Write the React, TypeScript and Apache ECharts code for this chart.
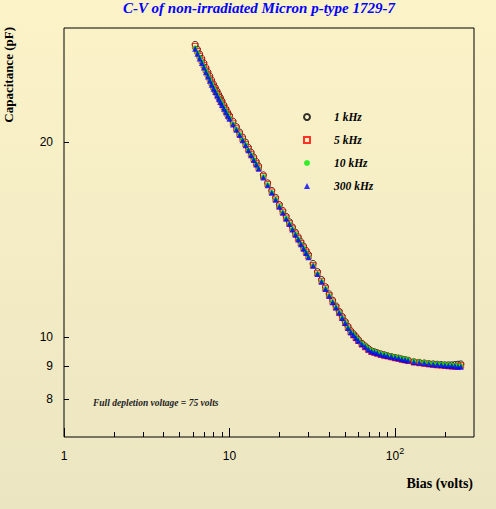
import React, { useEffect, useRef } from "react";
import * as echarts from "echarts";

// Bias voltage (V) shared by all four frequency scans
const biasVolts = [
  6.2, 6.4, 6.6, 6.8, 7.0, 7.2, 7.4, 7.6, 7.8, 8.0, 8.2, 8.4, 8.6, 8.8, 9.0,
  9.25, 9.5, 9.75,
  10, 10.5, 11, 11.5, 12, 12.5, 13, 13.5, 14, 14.5, 15,
  16, 17, 18, 19, 20, 21, 22, 23, 24, 25, 26, 27, 28, 29, 30,
  32, 34, 36, 38, 40, 42, 44, 46, 48, 50, 52, 54, 56, 58, 60,
  63, 66, 69, 72, 75, 78,
  82, 86, 90,
  95, 100, 105, 110, 115, 120,
  130, 140, 150, 160, 170, 180, 190, 200, 210, 220, 230, 240, 250,
];

// Capacitance (pF)
const cap1kHz = [
  28.3, 27.82, 27.36, 26.93, 26.5, 26.07, 25.67, 25.3, 24.93, 24.58, 24.28, 23.99, 23.7, 23.43, 23.16,
  22.82, 22.52, 22.23,
  21.98, 21.54, 21.12, 20.72, 20.35, 19.99, 19.62, 19.29, 18.96, 18.66, 18.36,
  17.79, 17.29, 16.83, 16.42, 16.01, 15.67, 15.35, 15.06, 14.78, 14.51, 14.27, 14.03, 13.81, 13.6, 13.4,
  12.98, 12.61, 12.26, 11.95, 11.65, 11.39, 11.16, 10.95, 10.75, 10.56, 10.38, 10.22, 10.11, 10.01, 9.9,
  9.77, 9.68, 9.59, 9.51, 9.48, 9.45,
  9.41, 9.38, 9.35,
  9.32, 9.29, 9.27, 9.24, 9.22, 9.2,
  9.15, 9.13, 9.11, 9.09, 9.08, 9.07, 9.06, 9.05, 9.05, 9.05, 9.06, 9.07, 9.08,
];

const cap5kHz = [
  28.12, 27.62, 27.15, 26.71, 26.28, 25.85, 25.45, 25.07, 24.7, 24.35, 24.06, 23.78, 23.5, 23.23, 22.98,
  22.66, 22.37, 22.08,
  21.84, 21.4, 20.98, 20.59, 20.22, 19.85, 19.49, 19.16, 18.84, 18.53, 18.25,
  17.7, 17.21, 16.75, 16.33, 15.93, 15.59, 15.27, 14.98, 14.7, 14.43, 14.19, 13.95, 13.73, 13.52, 13.32,
  12.9, 12.53, 12.19, 11.88, 11.59, 11.33, 11.11, 10.9, 10.7, 10.51, 10.33, 10.17, 10.06, 9.96, 9.86,
  9.74, 9.64, 9.55, 9.48, 9.45, 9.42,
  9.38, 9.35, 9.33,
  9.3, 9.27, 9.25, 9.22, 9.2, 9.18,
  9.13, 9.11, 9.09, 9.07, 9.05, 9.04, 9.03, 9.02, 9.01, 9.0, 8.99, 9.0, 9.03,
];

const cap10kHz = [
  27.95, 27.46, 27.0, 26.57, 26.15, 25.72, 25.32, 24.95, 24.59, 24.24, 23.96, 23.68, 23.4, 23.14, 22.89,
  22.58, 22.29, 22.01,
  21.78, 21.34, 20.93, 20.54, 20.17, 19.81, 19.45, 19.12, 18.8, 18.5, 18.22,
  17.67, 17.18, 16.72, 16.31, 15.91, 15.57, 15.25, 14.96, 14.68, 14.41, 14.17, 13.93, 13.71, 13.5, 13.3,
  12.89, 12.52, 12.18, 11.87, 11.58, 11.33, 11.11, 10.9, 10.7, 10.51, 10.33, 10.17, 10.08, 9.98, 9.89,
  9.77, 9.68, 9.59, 9.52, 9.49, 9.46,
  9.42, 9.39, 9.37,
  9.34, 9.31, 9.29, 9.26, 9.24, 9.22,
  9.17, 9.15, 9.13, 9.11, 9.09, 9.08, 9.07, 9.06, 9.05, 9.04, 9.03, 9.02, 9.02,
];

const cap300kHz = [
  27.87, 27.38, 26.92, 26.49, 26.07, 25.64, 25.24, 24.87, 24.51, 24.16, 23.88, 23.6, 23.32, 23.06, 22.81,
  22.51, 22.22, 21.95,
  21.73, 21.29, 20.88, 20.5, 20.13, 19.77, 19.41, 19.08, 18.76, 18.46, 18.18,
  17.63, 17.14, 16.69, 16.28, 15.88, 15.54, 15.22, 14.93, 14.65, 14.38, 14.14, 13.9, 13.68, 13.47, 13.27,
  12.87, 12.5, 12.16, 11.85, 11.56, 11.31, 11.1, 10.89, 10.69, 10.5, 10.32, 10.16, 10.06, 9.96, 9.86,
  9.74, 9.65, 9.56, 9.49, 9.46, 9.43,
  9.39, 9.36, 9.34,
  9.31, 9.28, 9.26, 9.23, 9.21, 9.19,
  9.14, 9.12, 9.1, 9.08, 9.06, 9.05, 9.04, 9.03, 9.02, 9.01, 9.0, 8.99, 8.99,
];

const seriesNames = ["1 kHz", "5 kHz", "10 kHz", "300 kHz"];

// Axis ranges and ticks (in volts / pF)
const xRange = [1, 300];
const yRange = [7, 30];
const xMajorTicks = [1, 10, 100];
const xMinorTicks = [2, 3, 4, 5, 6, 7, 8, 9, 20, 30, 40, 50, 60, 70, 80, 90, 200];
const yTicks = [8, 9, 10, 20];

const titleText = "C-V of non-irradiated Micron p-type 1729-7";
const xTitle = "Bias (volts)";
const yTitle = "Capacitance (pF)";
const noteText = "Full depletion voltage = 75 volts";

const SERIF = "'Liberation Serif', 'Times New Roman', serif";
const SANS = "'Liberation Sans', Arial, sans-serif";

export default function App() {
  const ref = useRef<HTMLDivElement>(null);

  useEffect(() => {
    document.body.style.margin = "0";
    if (!ref.current) return;
    const chart = echarts.init(ref.current, undefined, { renderer: "svg" });
    const lg = Math.log10;
    const pts = (c: number[]) => biasVolts.map((v, i) => [lg(v), lg(c[i])]);

    const xLabel = (v: number) => {
      const r = Math.round(v);
      if (r === 0) return "{b|1}";
      if (r === 1) return "{b|10}";
      return "{b|10}{s|" + r + "}";
    };

    const option: any = {
      animation: false,
      backgroundColor: "transparent",
      grid: {
        left: 64,
        top: 28,
        right: 22,
        bottom: 72,
        show: true,
        borderColor: "#000",
        borderWidth: 1,
        backgroundColor: "transparent",
      },
      xAxis: [
        {
          type: "value",
          min: lg(xRange[0]),
          max: lg(xRange[1]),
          position: "bottom",
          axisLine: { show: false },
          splitLine: { show: false },
          axisTick: {
            show: true,
            inside: true,
            length: 9,
            customValues: xMajorTicks.map(lg),
            lineStyle: { color: "#000", width: 1 },
          },
          axisLabel: {
            customValues: xMajorTicks.map(lg),
            formatter: xLabel,
            margin: 9,
            color: "#000",
            rich: {
              b: { fontFamily: SANS, fontSize: 12, color: "#000", lineHeight: 16, verticalAlign: "bottom" },
              s: { fontFamily: SANS, fontSize: 9, color: "#000", lineHeight: 16, verticalAlign: "top", padding: [0, 0, 6, 0] },
            },
          },
        },
        {
          type: "value",
          min: lg(xRange[0]),
          max: lg(xRange[1]),
          position: "bottom",
          axisLine: { show: false },
          splitLine: { show: false },
          axisTick: {
            show: true,
            inside: true,
            length: 5,
            customValues: xMinorTicks.map(lg),
            lineStyle: { color: "#000", width: 1 },
          },
          axisLabel: { show: false },
        },
      ],
      yAxis: [
        {
          type: "value",
          min: lg(yRange[0]),
          max: lg(yRange[1]),
          axisLine: { show: false },
          splitLine: { show: false },
          axisTick: {
            show: true,
            inside: true,
            length: 5,
            customValues: yTicks.map(lg),
            lineStyle: { color: "#000", width: 1 },
          },
          axisLabel: {
            customValues: yTicks.map(lg),
            formatter: (v: number) => String(Math.round(Math.pow(10, v))),
            margin: 11,
            color: "#000",
            fontFamily: SANS,
            fontSize: 12,
          },
        },
      ],
      legend: {
        orient: "vertical",
        left: 303,
        top: 111,
        padding: 0,
        itemWidth: 6,
        itemHeight: 6,
        itemGap: 11,
        data: seriesNames,
        textStyle: {
          fontFamily: SERIF,
          fontStyle: "italic",
          fontWeight: "bold",
          fontSize: 11.5,
          color: "#000",
          lineHeight: 12,
          padding: [0, 0, 0, 19],
        },
      },
      series: [
        {
          name: seriesNames[0],
          type: "scatter",
          data: pts(cap1kHz),
          symbol: "circle",
          symbolSize: 6,
          itemStyle: { color: "transparent", borderColor: "#000", borderWidth: 1 },
        },
        {
          name: seriesNames[1],
          type: "scatter",
          data: pts(cap5kHz),
          symbol: "rect",
          symbolSize: 5.5,
          itemStyle: { color: "transparent", borderColor: "#ff0000", borderWidth: 1 },
        },
        {
          name: seriesNames[2],
          type: "scatter",
          data: pts(cap10kHz),
          symbol: "circle",
          symbolSize: 5,
          itemStyle: { color: "#00ee00" },
        },
        {
          name: seriesNames[3],
          type: "scatter",
          data: pts(cap300kHz),
          symbol: "triangle",
          symbolSize: 6,
          itemStyle: { color: "#0000ff" },
        },
      ],
      graphic: [
        {
          type: "text",
          x: 259,
          y: 0,
          style: {
            text: titleText,
            align: "center",
            verticalAlign: "top",
            fontFamily: SERIF,
            fontStyle: "italic",
            fontWeight: "bold",
            fontSize: 15,
            fill: "#0000ff",
          },
        },
        {
          type: "text",
          x: 8.5,
          y: 27,
          rotation: Math.PI / 2,
          style: {
            text: yTitle,
            align: "right",
            verticalAlign: "middle",
            fontFamily: SERIF,
            fontWeight: "bold",
            fontSize: 13,
            fill: "#000",
          },
        },
        {
          type: "text",
          x: 473,
          y: 483,
          style: {
            text: xTitle,
            align: "right",
            verticalAlign: "middle",
            fontFamily: SERIF,
            fontWeight: "bold",
            fontSize: 14,
            fill: "#000",
          },
        },
        {
          type: "text",
          x: 93,
          y: 403,
          style: {
            text: noteText,
            align: "left",
            verticalAlign: "middle",
            fontFamily: SERIF,
            fontStyle: "italic",
            fontWeight: "bold",
            fontSize: 9.5,
            fill: "#222",
          },
        },
      ],
    };

    chart.setOption(option);
    return () => chart.dispose();
  }, []);

  return (
    <div
      ref={ref}
      style={{
        position: "absolute",
        left: 0,
        top: 0,
        width: 496,
        height: 509,
        background: "linear-gradient(to bottom, #fcf3c8 0%, #ebe5c1 100%)",
      }}
    />
  );
}
